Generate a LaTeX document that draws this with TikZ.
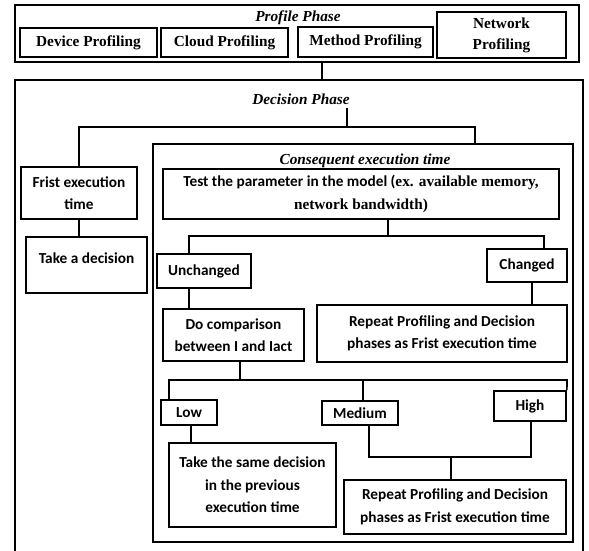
\documentclass[tikz,border=0pt]{standalone}
\usepackage{fontspec}
\setmainfont{Liberation Serif}
\newfontfamily\calfont{Carlito}
\begin{document}
\begin{tikzpicture}[x=1pt,y=-1pt,
  box/.style={draw, line width=1.7pt, inner sep=0pt, align=center},
  tnr/.style={font=\fontsize{15.3}{21}\selectfont\bfseries},
  cal/.style={font=\calfont\fontsize{15.3}{22.5}\selectfont\bfseries},
  ttl/.style={font=\fontsize{15.3}{18}\selectfont\bfseries\itshape, inner sep=0pt},
  conn/.style={line width=1.7pt}]
\useasboundingbox (0,0) rectangle (589,551);
% Profile phase
\node[box, minimum width=564pt, minimum height=57pt] (profile) at (297,33.5) {};
\node[ttl, anchor=base] (pph) at (298,22) {Profile Phase};
\node[box, tnr, minimum width=137pt, minimum height=29pt] (device) at (88.5,42.5) {Device Profiling};
\node[box, tnr, minimum width=127pt, minimum height=29pt] (cloud) at (224.5,42.5) {Cloud Profiling};
\node[box, tnr, minimum width=135pt, minimum height=30pt] (method) at (365.5,42) {Method Profiling};
\node[box, tnr, minimum width=129pt, minimum height=46pt] (network) at (501.5,35) {Network\\Profiling};
% Decision phase (open at the bottom)
\draw[conn] (15,551) -- (15,80) -- (583,80) -- (583,551);
\coordinate (dtop) at (322,80);
\draw[conn] (profile.south -| dtop) -- (dtop);
\node[ttl, anchor=base] (dph) at (301,104) {Decision Phase};
\coordinate (dj) at (347,108);
\coordinate (h1) at (79,127);
\coordinate (h2) at (475,127);
\node[box, cal, minimum width=116pt, minimum height=52pt] (frist) at (79,193) {Frist execution\\time};
\node[box, minimum width=121pt, minimum height=56pt] (take) at (86.5,265) {};
\node[cal, inner sep=0pt] (taketxt) at (86.5,258) {Take a decision};
\node[box, minimum width=420pt, minimum height=398pt] (cons) at (363,343) {};
\node[ttl, anchor=base] (cph) at (365,164) {Consequent execution time};
\draw[conn] (dj) -- (dj |- h1);
\draw[conn] (frist.north) -- (h1) -- (h2) -- (cons.north -| h2);
\draw[conn] (frist.south) -- (frist.south |- take.north);
% Consequent part
\node[box, minimum width=396pt, minimum height=50pt, font=\fontsize{15.3}{23}\selectfont\bfseries] (test) at (361,194)
  {{\calfont Test the parameter in the model (}ex. available memory,\\network bandwidth)};
\node[box, cal, minimum width=94pt, minimum height=34pt] (unch) at (204,271) {Unchanged};
\node[box, cal, minimum width=80pt, minimum height=33pt] (chg) at (527,265.5) {Changed};
\coordinate (t0) at (388,236);
\coordinate (t1) at (189,236);
\coordinate (t2) at (544,236);
\draw[conn] (test.south -| t0) -- (t0);
\draw[conn] (unch.north -| t1) -- (t1) -- (t2) -- (chg.north -| t2);
\node[box, cal, minimum width=141pt, minimum height=52pt] (comp) at (233.5,335) {Do comparison\\between I and Iact};
\node[box, cal, minimum width=250pt, minimum height=57pt] (rep1) at (442,333.5) {Repeat Profiling and Decision\\phases as Frist execution time};
\coordinate (c1) at (532,300);
\draw[conn] (unch.south -| t1) -- (comp.north -| t1);
\draw[conn] (chg.south -| c1) -- (rep1.north -| c1);
\node[box, cal, minimum width=56pt, minimum height=25pt] (low) at (189,412.5) {Low};
\node[box, cal, minimum width=76pt, minimum height=24pt] (med) at (360,413) {Medium};
\node[box, cal, minimum width=72pt, minimum height=30pt] (high) at (530,406) {High};
\coordinate (s0) at (240,380);
\coordinate (s1) at (169,380);
\coordinate (s2) at (567,380);
\coordinate (s3) at (363,380);
\draw[conn] (comp.south -| s0) -- (s0);
\draw[conn] (low.north -| s1) -- (s1) -- (s2) -- (high.north east);
\draw[conn] (s3) -- (med.north -| s3);
\node[box, cal, minimum width=167pt, minimum height=84pt] (same) at (252.5,485) {Take the same decision\\in the previous\\execution time};
\node[box, cal, minimum width=222pt, minimum height=54pt] (rep2) at (455,507) {Repeat Profiling and Decision\\phases as Frist execution time};
\coordinate (l1) at (191,430);
\draw[conn] (low.south -| l1) -- (same.north -| l1);
\coordinate (m1) at (369,457);
\coordinate (m2) at (531,457);
\coordinate (m0) at (451,457);
\draw[conn] (med.south -| m1) -- (m1) -- (m2) -- (high.south -| m2);
\draw[conn] (m0) -- (rep2.north -| m0);
\end{tikzpicture}
\end{document}
